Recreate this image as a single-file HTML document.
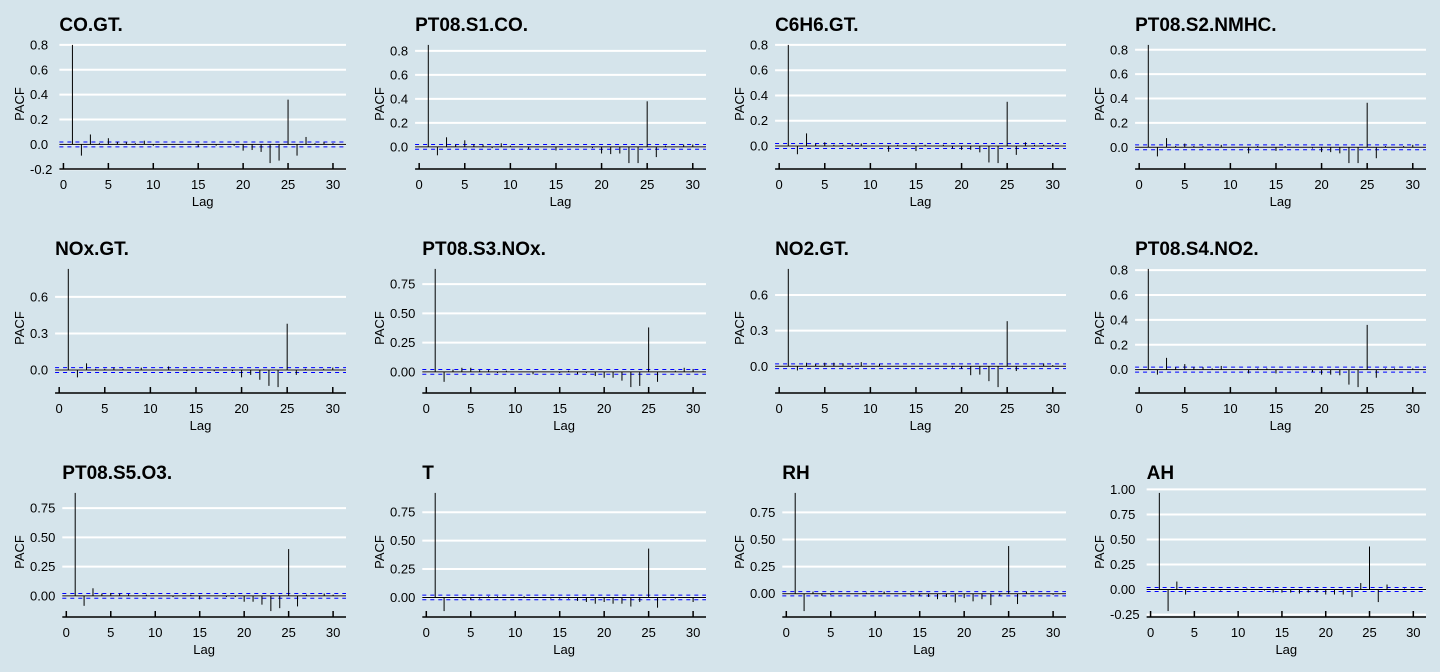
<!DOCTYPE html>
<html><head><meta charset="utf-8"><style>
html,body{margin:0;padding:0;background:#d5e4eb;}
svg{display:block;font-family:"Liberation Sans",sans-serif;}
</style></head><body>
<svg id="chart" width="1440" height="672" viewBox="0 0 1440 672" xmlns="http://www.w3.org/2000/svg">
<rect width="1440" height="672" fill="#d5e4eb"/>
</svg>
<script>
const titles = ["CO.GT.","PT08.S1.CO.","C6H6.GT.","PT08.S2.NMHC.","NOx.GT.","PT08.S3.NOx.","NO2.GT.","PT08.S4.NO2.","PT08.S5.O3.","T","RH","AH"];
const lags = [1,2,3,4,5,6,7,8,9,10,11,12,13,14,15,16,17,18,19,20,21,22,23,24,25,26,27,28,29,30];
const ciValue = 0.02;
const xTicks = [0,5,10,15,20,25,30];
const pacfCO = [0.80,-0.09,0.08,0.01,0.05,0.02,0.02,0.01,0.03,-0.01,0,0,0,0,-0.02,0,-0.01,0,-0.01,-0.05,-0.045,-0.06,-0.15,-0.13,0.36,-0.09,0.06,0.01,0.02,0.01];
const pacfS1 = [0.85,-0.07,0.08,0.02,0.055,0.02,0.02,-0.01,0.03,0.01,0,-0.02,0,0,-0.03,0,0,0,-0.01,-0.055,-0.06,-0.055,-0.135,-0.135,0.38,-0.085,0.01,0,0.02,0.02];
const pacfC6 = [0.80,-0.065,0.10,0.02,0.03,0.01,0.01,0.02,0.02,0,0,-0.045,0.01,0,-0.04,0.01,0,0.01,-0.02,-0.03,-0.03,-0.05,-0.13,-0.135,0.35,-0.07,0.03,0.01,0.01,0.01];
const pacfS2 = [0.84,-0.075,0.075,0.01,0.03,0.01,0.01,0,0.02,0,0,-0.05,0.01,0,-0.03,0.01,0,0,-0.01,-0.04,-0.04,-0.05,-0.13,-0.13,0.365,-0.09,0.01,0,0.01,0.02];
const pacfNOx = [0.83,-0.06,0.055,0.01,0.01,0.02,0.01,0,0.02,0,0,0.03,0,-0.01,0,0,-0.01,0,-0.01,-0.06,-0.04,-0.08,-0.13,-0.14,0.38,-0.04,0.01,0,0.01,0.02];
const pacfS3 = [0.88,-0.085,0.02,0.035,0.035,0.015,0.015,-0.01,0.01,0,0,-0.02,0,0,-0.01,0.01,-0.02,-0.01,-0.035,-0.05,-0.05,-0.075,-0.13,-0.12,0.38,-0.085,0,0.01,0.035,0.025];
const pacfNO2 = [0.82,-0.035,0.03,0.02,0.03,0.03,0.025,-0.01,0.035,0,0.02,0,0,0,0,0,0,0,-0.01,-0.02,-0.075,-0.07,-0.125,-0.175,0.38,-0.04,0,0,0.025,0.01];
const pacfS4 = [0.81,-0.04,0.095,0.02,0.045,0.02,0.02,0.01,0.03,0,0,-0.03,0.01,0.01,-0.03,0,0,0,-0.02,-0.04,-0.04,-0.045,-0.12,-0.14,0.36,-0.065,0.01,0.01,0,0.01];
const pacfS5 = [0.88,-0.085,0.065,0.02,0.025,0.02,0.015,0,0.01,0,0,-0.01,0,0.01,-0.03,0,0,-0.01,-0.01,-0.05,-0.05,-0.075,-0.13,-0.105,0.40,-0.09,0.01,0,0.02,0.01];
const pacfT = [0.92,-0.12,0,-0.01,-0.02,-0.01,0.01,0.01,0,0,0.01,0,0,-0.01,-0.01,-0.01,-0.03,-0.04,-0.055,-0.04,-0.055,-0.055,-0.08,-0.04,0.43,-0.09,0,-0.01,0,-0.04];
const pacfRH = [0.93,-0.16,0.02,-0.02,-0.01,0,0,0,0.01,0,0.02,0,0,-0.01,-0.02,-0.03,-0.05,-0.03,-0.08,-0.04,-0.07,-0.05,-0.105,-0.02,0.44,-0.095,0.02,0,0,-0.01];
const pacfAH = [0.965,-0.215,0.08,-0.05,0,0,0,-0.01,0,0,0.01,0,-0.01,-0.03,-0.03,-0.03,-0.04,-0.03,-0.03,-0.05,-0.05,-0.05,-0.075,0.065,0.43,-0.125,0.05,0,0.01,0];
const yTicks1 = [-0.2,0,0.2,0.4,0.6,0.8];
const yTicks2 = [0,0.2,0.4,0.6,0.8];
const yTicks3 = [0,0.3,0.6];
const yTicks4 = [0,0.25,0.5,0.75];
const yTicks5 = [-0.25,0,0.25,0.5,0.75,1.0];
const yDigits = [1,1,1,1,1,2,1,1,2,2,2,2];

const series = [pacfCO,pacfS1,pacfC6,pacfS2,pacfNOx,pacfS3,pacfNO2,pacfS4,pacfS5,pacfT,pacfRH,pacfAH];
const tickSets = [yTicks1,yTicks2,yTicks2,yTicks2,yTicks3,yTicks4,yTicks3,yTicks2,yTicks4,yTicks4,yTicks4,yTicks5];

const NS = "http://www.w3.org/2000/svg";
const svg = document.getElementById("chart");
const cv = document.createElement("canvas").getContext("2d");
cv.font = "13px 'Liberation Sans'";
function mk(tag, attrs, parent){const e=document.createElementNS(NS,tag);for(const k in attrs)e.setAttribute(k,attrs[k]);parent.appendChild(e);return e;}

series.forEach(function(vals, i){
  const col = i % 4, row = Math.floor(i / 4);
  const ox = col * 360, oy = row * 224;
  const g = mk("g", {transform:"translate("+ox+","+oy+")"}, svg);
  
  
  const ticks = tickSets[i];
  const labels = ticks.map(function(t){return t.toFixed(yDigits[i]);});
  let maxW = 0; labels.forEach(function(l){maxW=Math.max(maxW,cv.measureText(l).width);});
  const left = 30 + maxW + 7, right = 346, top = 39, bottom = 169;
  const xMin = 1 - 0.05*29, xMax = 30 + 0.05*29;
  const xs = function(v){return left + (v - xMin) / (xMax - xMin) * (right - left);};
  let lo = Math.min(-ciValue, Math.min.apply(null, vals)), hi = Math.max(ciValue, Math.max.apply(null, vals));
  const pad = (hi - lo) * 0.05; lo -= pad; hi += pad;
  const ys = function(v){return bottom - (v - lo) / (hi - lo) * (bottom - top);};

  const title = mk("text", {x:left, y:31, "font-size":19, "font-weight":"bold", fill:"#000"}, g);
  title.textContent = titles[i];
  
  

  ticks.forEach(function(t, k){
    const y = ys(t);
    const gl = mk("line", {x1:left, x2:right, y1:y, y2:y, stroke:"#fff", "stroke-width":2}, g);
    
    
    const tl = mk("text", {x:30, y:y+4.5, "font-size":13, fill:"#000"}, g);
    tl.textContent = labels[k];
    
    
  });

  const yl = mk("text", {x:0, y:0, "font-size":13, "text-anchor":"middle", transform:"translate(24,"+((top+bottom)/2)+") rotate(-90)", fill:"#000"}, g);
  yl.textContent = "PACF";
  
  

  const z = mk("line", {x1:left, x2:right, y1:ys(0), y2:ys(0), stroke:"#000", "stroke-width":1}, g);
  
  
  [ciValue, -ciValue].forEach(function(c){
    const d = mk("line", {x1:left, x2:right, y1:ys(c), y2:ys(c), stroke:"#0000ff", "stroke-width":1, "stroke-dasharray":"4,4"}, g);
    
    
  });

  vals.forEach(function(v, k){
    const x = xs(lags[k]);
    const b = mk("line", {x1:x, x2:x, y1:ys(0), y2:ys(v), stroke:"#000", "stroke-width":1}, g);
    
    
  });

  const ax = mk("line", {x1:left, x2:right, y1:bottom, y2:bottom, stroke:"#000", "stroke-width":1.5}, g);
  
  
  xTicks.forEach(function(t){
    const x = xs(t);
    const tk = mk("line", {x1:x, x2:x, y1:bottom-6, y2:bottom, stroke:"#000", "stroke-width":1.5}, g);
    
    
    const tl = mk("text", {x:x, y:189, "font-size":13, "text-anchor":"middle", fill:"#000"}, g);
    tl.textContent = String(t);
    
    
  });
  const xl = mk("text", {x:(left+right)/2, y:206, "font-size":13, "text-anchor":"middle", fill:"#000"}, g);
  xl.textContent = "Lag";
  
  
});
</script>
</body></html>
